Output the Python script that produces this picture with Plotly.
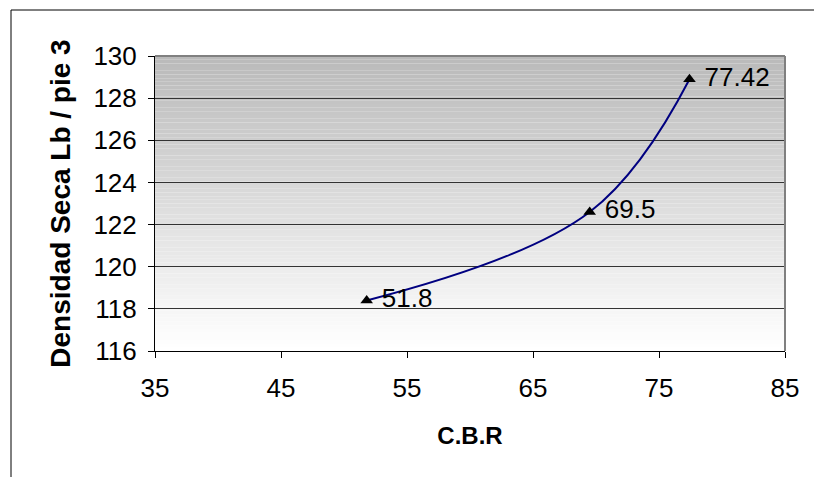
import plotly.graph_objects as go

# Datos
cbr = [51.8, 69.5, 77.42]
densidad = [118.4, 122.6, 128.9]
etiquetas = ["51.8", "69.5", "77.42"]

# la página añade 8 px de margen al cuerpo
W, H = 814, 469
L, R, T, B = 147, 37, 48, 126
FONT = "Liberation Sans, Arial, sans-serif"

fig = go.Figure(go.Scatter(
    x=cbr, y=densidad, mode="lines+markers+text",
    line=dict(color="#000080", width=2, shape="spline", smoothing=1.1),
    marker=dict(symbol="triangle-up", size=11, color="black"),
    text=etiquetas, texttemplate=" %{text}", textposition="middle right",
    textfont=dict(family=FONT, size=26, color="black"),
    cliponaxis=False, showlegend=False,
))

# fondo degradado del área de trazado (gris arriba, blanco abajo)
shapes = []
n = 80
top, bot = 186, 255
for i in range(n):
    f = i / (n - 1)
    c = round(bot + (top - bot) * f)
    shapes.append(dict(
        type="rect", xref="x domain", yref="y domain",
        x0=0, x1=1, y0=i / n, y1=(i + 1) / n,
        fillcolor=f"rgb({c},{c},{c})", line=dict(width=0), layer="below",
    ))
# borde gris superior/derecho del área de trazado
shapes.append(dict(type="line", xref="x domain", yref="y domain", x0=0, x1=1, y0=1, y1=1,
                   line=dict(color="#808080", width=2)))
shapes.append(dict(type="line", xref="x domain", yref="y domain", x0=1, x1=1, y0=0, y1=1,
                   line=dict(color="#808080", width=2)))
# marco exterior del gráfico
pw, ph = W - L - R, H - T - B
shapes.append(dict(
    type="rect", xref="paper", yref="paper",
    x0=(3 - L) / pw, x1=(W + 20 - L) / pw,
    y0=(H - B - (H + 20)) / ph, y1=(H - B - 2) / ph,
    line=dict(color="black", width=1), fillcolor="rgba(0,0,0,0)",
))

fig.update_layout(
    width=W, height=H,
    margin=dict(l=L, r=R, t=T, b=B),
    paper_bgcolor="white", plot_bgcolor="white",
    font=dict(family=FONT, color="black"),
    shapes=shapes,
    xaxis=dict(
        range=[35, 85], tickvals=[35, 45, 55, 65, 75, 85],
        showgrid=False, zeroline=False,
        showline=True, linecolor="black", linewidth=1,
        ticks="outside", ticklen=6, tickcolor="black",
        tickfont=dict(size=26), ticklabelstandoff=8,
        title=dict(text="<b>C.B.R</b>", font=dict(size=24), standoff=24),
    ),
    yaxis=dict(
        range=[116, 130], tickvals=list(range(116, 131, 2)),
        showgrid=True, gridcolor="#333333", gridwidth=1, zeroline=False,
        showline=True, linecolor="black", linewidth=1,
        ticks="outside", ticklen=6, tickcolor="black",
        tickfont=dict(size=26), ticklabelstandoff=6,
        title=dict(text="<b>Densidad Seca Lb / pie 3</b>", font=dict(size=28), standoff=14),
    ),
)

fig.write_html("out.html")
